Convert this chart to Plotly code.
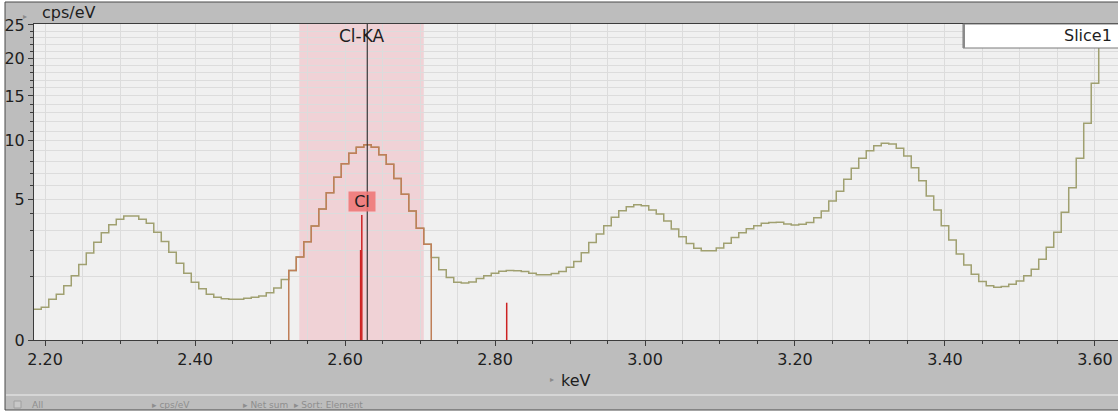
import numpy as np
import plotly.graph_objects as go

# ---- spectrum data (cps/eV per 10 eV channel) ----
START_KEV = 2.19
CHANNEL_KEV = 0.01
SPECTRUM_CPS = [
    0.24,
    0.27, 0.42, 0.53, 0.74, 1.04, 1.44, 1.91, 2.41, 2.90, 3.35,   # 2.20-2.29
    3.67, 3.87, 3.87, 3.67, 3.43, 2.92, 2.44, 1.94, 1.48, 1.12,   # 2.30-2.39
    0.84, 0.66, 0.53, 0.46, 0.43, 0.42, 0.42, 0.44, 0.46, 0.49,   # 2.40-2.49
    0.56, 0.68, 0.92, 1.22, 1.73, 2.43, 3.27, 4.32, 5.47, 6.67,   # 2.50-2.59
    7.83, 8.78, 9.36, 9.61, 9.36, 8.65, 7.78, 6.56, 5.35, 4.19,   # 2.60-2.69
    3.14, 2.31, 1.71, 1.24, 0.98, 0.84, 0.82, 0.85, 0.95, 1.04,   # 2.70-2.79
    1.12, 1.19, 1.22, 1.21, 1.18, 1.12, 1.07, 1.07, 1.11, 1.18,   # 2.80-2.89
    1.33, 1.55, 1.92, 2.39, 2.83, 3.29, 3.79, 4.21, 4.48, 4.61,   # 2.90-2.99
    4.54, 4.26, 4.00, 3.57, 3.10, 2.69, 2.34, 2.12, 2.01, 2.01,   # 3.00-3.09
    2.13, 2.36, 2.64, 2.90, 3.12, 3.29, 3.43, 3.47, 3.49, 3.39,   # 3.10-3.19
    3.33, 3.37, 3.47, 3.77, 4.19, 4.87, 5.57, 6.51, 7.43, 8.32,   # 3.20-3.29
    9.03, 9.51, 9.75, 9.68, 9.26, 8.53, 7.48, 6.39, 5.22, 4.26,   # 3.30-3.39
    3.29, 2.52, 1.86, 1.42, 1.09, 0.86, 0.74, 0.70, 0.72, 0.78,   # 3.40-3.49
    0.88, 1.04, 1.26, 1.64, 2.17, 2.92, 4.11, 5.84, 8.32, 11.83,  # 3.50-3.59
    16.6, 28.0, 34.0, 40.0,                                        # 3.60-3.63
]

# Cl element region of interest (channels drawn in the ROI colour)
ROI_KEV = (2.525, 2.715)
# Highlighted Cl-KA window
BAND_KEV = (2.539, 2.705)
ELEMENT = "Cl"
LINE_NAME = "Cl-KA"
# Cl marker lines: energy (keV) and relative height (cps/eV)
CL_LINES_KEV = [2.6224, 2.6208, 2.8156]
CL_LINES_CPS = [3.94, 2.04, 0.35]
CURSOR_KEV = 2.6297

SERIES_NAME = "Slice1"
Y_MAJOR = [0, 5, 10, 15, 20, 25]
Y_MINOR = [v for v in range(1, 25) if v % 5]
X_TICKS = [2.20, 2.40, 2.60, 2.80, 3.00, 3.20, 3.40, 3.60]

# ---- geometry of the page ----
W, H = 1118, 412
ML, MR, MT, MB = 34, 0, 24, 72
PW, PH = W - ML - MR, H - MT - MB
X_RANGE = [2.1853, 3.6307]
Y_TOP = 25.15


def px(xpix):
    return (xpix - ML) / PW


def py(ypix):
    return (H - MB - ypix) / PH


energy = np.round(START_KEV + CHANNEL_KEV * np.arange(len(SPECTRUM_CPS)), 3)
cps = np.array(SPECTRUM_CPS)
left_edges = energy - CHANNEL_KEV / 2

# full spectrum as a histogram outline (square-root intensity scale)
x_full = np.append(left_edges, left_edges[-1] + CHANNEL_KEV)
y_full = np.sqrt(np.append(cps, cps[-1]))

# ROI part, closed down to the baseline at both ends
in_roi = (energy > ROI_KEV[0]) & (energy < ROI_KEV[1])
x_roi = np.concatenate([[ROI_KEV[0]], left_edges[in_roi], [ROI_KEV[1]]])
y_roi = np.sqrt(np.concatenate([[0.0], cps[in_roi], [0.0]]))

# element marker lines
x_lines, y_lines = [], []
for e, v in zip(CL_LINES_KEV, CL_LINES_CPS):
    x_lines += [e, e, None]
    y_lines += [0, np.sqrt(v), None]

FONT = "DejaVu Sans"
fig = go.Figure()

fig.add_trace(go.Scatter(
    x=x_full, y=y_full, mode="lines", line=dict(shape="hv", color="#a0a070", width=1.5),
    name=SERIES_NAME, showlegend=False, hoverinfo="skip"))
fig.add_trace(go.Scatter(
    x=x_roi, y=y_roi, mode="lines", line=dict(shape="hv", color="#bf7f58", width=1.5),
    showlegend=False, hoverinfo="skip"))
fig.add_trace(go.Scatter(
    x=x_lines, y=y_lines, mode="lines", line=dict(color="#cc2222", width=1.5),
    showlegend=False, hoverinfo="skip"))

shapes = [
    # window frame and grey panel
    dict(type="rect", xref="paper", yref="paper", x0=px(5), x1=px(W + 2), y0=py(410), y1=py(2),
         fillcolor="#bdbdbd", line=dict(color="#4a4a4a", width=1), layer="below"),
    # status strip separator
    dict(type="line", xref="paper", yref="paper", x0=px(6), x1=px(W), y0=py(395), y1=py(395),
         line=dict(color="#d6d6d6", width=2), layer="below"),
    # plot area background
    dict(type="rect", xref="paper", yref="paper", x0=0, x1=1, y0=0, y1=1,
         fillcolor="#f0f0f0", line=dict(width=0), layer="below"),
    # Cl-KA window
    dict(type="rect", xref="x", yref="paper", x0=BAND_KEV[0], x1=BAND_KEV[1], y0=0, y1=1,
         fillcolor="rgba(240,160,170,0.38)", line=dict(width=0), layer="between"),
    # cursor
    dict(type="line", xref="x", yref="paper", x0=CURSOR_KEV, x1=CURSOR_KEV, y0=0, y1=1,
         line=dict(color="#3a3a3a", width=1.2), layer="above"),
    # series name box
    dict(type="rect", xref="paper", yref="paper", x0=px(963), x1=px(W + 2), y0=py(48), y1=1,
         fillcolor="#ffffff", line=dict(color="#7a7a7a", width=1), layer="above"),
    dict(type="line", xref="paper", yref="paper", x0=px(964), x1=px(964), y0=py(48), y1=1,
         line=dict(color="#8a8a8a", width=2), layer="above"),
    # status bar checkbox
    dict(type="rect", xref="paper", yref="paper", x0=px(14), x1=px(21), y0=py(408), y1=py(401),
         fillcolor="#c8c8c8", line=dict(color="#a0a0a0", width=1), layer="above"),
]


def note(text, x, y, size, color="#1e1e1e", xanchor="center", **kw):
    return dict(text=text, x=x, xref="paper", y=y, yref="paper", xanchor=xanchor,
                yanchor="middle", showarrow=False,
                font=dict(family=FONT, size=size, color=color), **kw)


annotations = [
    dict(text=LINE_NAME, x=(BAND_KEV[0] + BAND_KEV[1]) / 2, xref="x", y=1, yref="paper",
         xanchor="center", yanchor="top", yshift=0, showarrow=False,
         font=dict(family=FONT, size=17, color="#1e1e1e")),
    dict(text=ELEMENT, x=CL_LINES_KEV[0], xref="x", y=np.sqrt(CL_LINES_CPS[0]), yref="y",
         xanchor="center", yanchor="bottom", yshift=3, showarrow=False, width=26, height=19,
         bgcolor="rgba(238,120,120,0.9)", borderpad=0,
         font=dict(family=FONT, size=16, color="#1e1e1e")),
    note("cps/eV", px(40), py(12), 16, xanchor="left"),
    note("▸", px(25), py(16), 8, color="#8a8a8a"),
    note("keV", 0.5, py(380), 16),
    note("▸", px(552), py(379), 8, color="#8a8a8a"),
    note(SERIES_NAME, 1, py(36), 16, xanchor="right", xshift=-4),
    note("All", px(30), py(405), 9, color="#8e8e8e", xanchor="left"),
    note("▸ cps/eV", px(150), py(405), 9, color="#8e8e8e", xanchor="left"),
    note("▸ Net sum  ▸ Sort: Element", px(241), py(405), 9, color="#8e8e8e", xanchor="left"),
]

grid = "#dcdcdc"
fig.update_layout(
    width=W, height=H,
    margin=dict(l=ML, r=MR, t=MT, b=MB, pad=0),
    paper_bgcolor="#ffffff",
    plot_bgcolor="rgba(0,0,0,0)",
    showlegend=False,
    shapes=shapes,
    annotations=annotations,
    xaxis=dict(
        range=X_RANGE, tickvals=X_TICKS, ticktext=[f"{t:.2f}" for t in X_TICKS],
        showgrid=True, gridcolor=grid, gridwidth=1, zeroline=False,
        showline=True, linecolor="#3c3c3c", linewidth=1, mirror=True,
        ticks="outside", ticklen=5, tickcolor="#3c3c3c", tickwidth=1,
        minor=dict(dtick=0.05, tick0=2.2, ticks="outside", ticklen=3, tickcolor="#3c3c3c",
                   showgrid=True, gridcolor=grid, gridwidth=1),
        tickfont=dict(family=FONT, size=16, color="#1e1e1e"),
        fixedrange=True,
    ),
    yaxis=dict(
        range=[0, np.sqrt(Y_TOP)],
        tickvals=np.sqrt(Y_MAJOR), ticktext=[str(v) for v in Y_MAJOR],
        showgrid=True, gridcolor=grid, gridwidth=1, zeroline=False,
        showline=True, linecolor="#3c3c3c", linewidth=1, mirror=True,
        ticks="outside", ticklen=5, tickcolor="#3c3c3c", tickwidth=1,
        minor=dict(tickmode="array", tickvals=np.sqrt(Y_MINOR), ticks="outside", ticklen=3,
                   tickcolor="#3c3c3c", showgrid=True, gridcolor=grid, gridwidth=1),
        tickfont=dict(family=FONT, size=16, color="#1e1e1e"),
        fixedrange=True,
    ),
)

fig.write_html("out.html", config={"displayModeBar": False})
